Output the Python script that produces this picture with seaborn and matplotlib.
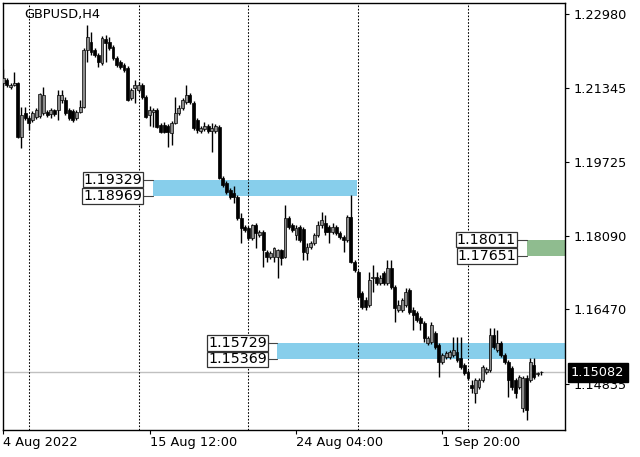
import numpy as np
import pandas as pd
import matplotlib
matplotlib.use("Agg")
import matplotlib.pyplot as plt
from matplotlib.transforms import blended_transform_factory
import seaborn as sns

# estilo base
sns.set_theme(style="white")
plt.rcParams['font.family'] = ['DejaVu Sans']

# --- datos GBPUSD H4 ---
opens = [
    1.2146, 1.2153, 1.2137, 1.2142, 1.2146, 1.2027, 1.2080, 1.2069, 1.2064, 1.2071,
    1.2073, 1.2080, 1.2082, 1.2078, 1.2087, 1.2087, 1.2109, 1.2109, 1.2087, 1.2084,
    1.2069, 1.2082, 1.2093, 1.2219, 1.2236, 1.2219, 1.2208, 1.2190, 1.2243, 1.2236,
    1.2225, 1.2201, 1.2192, 1.2186, 1.2179, 1.2113, 1.2135, 1.2131, 1.2142, 1.2115,
    1.2076, 1.2082, 1.2087, 1.2053, 1.2053, 1.2051, 1.2036, 1.2058, 1.2080, 1.2091,
    1.2104, 1.2120, 1.2102, 1.2064, 1.2040, 1.2045, 1.2051, 1.2040, 1.2040, 1.2049,
    1.1937, 1.1926, 1.1910, 1.1904, 1.1895, 1.1848, 1.1829, 1.1827, 1.1805, 1.1833,
    1.1811, 1.1818, 1.1774, 1.1763, 1.1763, 1.1763, 1.1778, 1.1763, 1.1848, 1.1833,
    1.1811, 1.1829, 1.1824, 1.1772, 1.1785, 1.1793, 1.1811, 1.1833, 1.1838, 1.1829,
    1.1818, 1.1829, 1.1816, 1.1807, 1.1800, 1.1851, 1.1752, 1.1730, 1.1683, 1.1668,
    1.1657, 1.1716, 1.1718, 1.1705, 1.1727, 1.1705, 1.1738, 1.1697, 1.1646, 1.1646,
    1.1657, 1.1690, 1.1646, 1.1639, 1.1628, 1.1617, 1.1573, 1.1575, 1.1595, 1.1569,
    1.1531, 1.1542, 1.1542, 1.1547, 1.1553, 1.1540, 1.1525, 1.1509, 1.1481, 1.1463,
    1.1477, 1.1492, 1.1509, 1.1514, 1.1591, 1.1558, 1.1573, 1.1547, 1.1531, 1.1518,
    1.1492, 1.1477, 1.1430, 1.1496, 1.1492, 1.1525, 1.1505, 1.1510]
highs = [
    1.2177, 1.2157, 1.2146, 1.2170, 1.2148, 1.2093, 1.2093, 1.2073, 1.2084, 1.2091,
    1.2124, 1.2137, 1.2087, 1.2091, 1.2089, 1.2131, 1.2131, 1.2115, 1.2091, 1.2089,
    1.2087, 1.2109, 1.2223, 1.2274, 1.2258, 1.2223, 1.2212, 1.2249, 1.2252, 1.2247,
    1.2230, 1.2205, 1.2197, 1.2190, 1.2183, 1.2135, 1.2153, 1.2148, 1.2146, 1.2120,
    1.2095, 1.2091, 1.2091, 1.2058, 1.2060, 1.2056, 1.2062, 1.2115, 1.2098, 1.2113,
    1.2142, 1.2124, 1.2106, 1.2069, 1.2051, 1.2060, 1.2056, 1.2058, 1.2056, 1.2053,
    1.1941, 1.1930, 1.1915, 1.1919, 1.1899, 1.1859, 1.1833, 1.1831, 1.1835, 1.1838,
    1.1822, 1.1822, 1.1778, 1.1776, 1.1785, 1.1780, 1.1780, 1.1877, 1.1853, 1.1838,
    1.1833, 1.1833, 1.1829, 1.1793, 1.1798, 1.1816, 1.1842, 1.1862, 1.1855, 1.1833,
    1.1838, 1.1833, 1.1820, 1.1811, 1.1855, 1.1899, 1.1756, 1.1734, 1.1688, 1.1674,
    1.1730, 1.1745, 1.1730, 1.1723, 1.1732, 1.1756, 1.1756, 1.1701, 1.1668, 1.1672,
    1.1694, 1.1694, 1.1652, 1.1643, 1.1633, 1.1622, 1.1589, 1.1620, 1.1600, 1.1573,
    1.1551, 1.1556, 1.1558, 1.1586, 1.1586, 1.1586, 1.1529, 1.1514, 1.1492, 1.1496,
    1.1496, 1.1525, 1.1520, 1.1606, 1.1606, 1.1602, 1.1578, 1.1551, 1.1536, 1.1523,
    1.1496, 1.1503, 1.1500, 1.1503, 1.1540, 1.1540, 1.1509, 1.1512]
lows = [
    1.2139, 1.2137, 1.2133, 1.2139, 1.2025, 1.2003, 1.2064, 1.2042, 1.2060, 1.2067,
    1.2069, 1.2076, 1.2071, 1.2069, 1.2073, 1.2064, 1.2102, 1.2076, 1.2064, 1.2060,
    1.2064, 1.2080, 1.2091, 1.2192, 1.2208, 1.2203, 1.2181, 1.2186, 1.2192, 1.2219,
    1.2197, 1.2181, 1.2177, 1.2170, 1.2106, 1.2109, 1.2102, 1.2126, 1.2111, 1.2069,
    1.2051, 1.2049, 1.2047, 1.2036, 1.2036, 1.2005, 1.2009, 1.2056, 1.2076, 1.2087,
    1.2100, 1.2100, 1.2042, 1.2036, 1.2036, 1.2040, 1.2036, 1.1994, 1.2036, 1.1934,
    1.1917, 1.1901, 1.1890, 1.1882, 1.1844, 1.1793, 1.1818, 1.1800, 1.1800, 1.1782,
    1.1807, 1.1741, 1.1752, 1.1758, 1.1752, 1.1716, 1.1745, 1.1761, 1.1824, 1.1818,
    1.1800, 1.1796, 1.1756, 1.1756, 1.1780, 1.1789, 1.1807, 1.1827, 1.1811, 1.1793,
    1.1813, 1.1811, 1.1802, 1.1774, 1.1796, 1.1750, 1.1730, 1.1670, 1.1648, 1.1646,
    1.1652, 1.1686, 1.1701, 1.1701, 1.1701, 1.1701, 1.1692, 1.1620, 1.1641, 1.1641,
    1.1652, 1.1637, 1.1602, 1.1620, 1.1602, 1.1575, 1.1569, 1.1571, 1.1560, 1.1498,
    1.1527, 1.1538, 1.1538, 1.1542, 1.1531, 1.1516, 1.1503, 1.1492, 1.1463, 1.1441,
    1.1472, 1.1487, 1.1505, 1.1509, 1.1560, 1.1553, 1.1542, 1.1527, 1.1454, 1.1470,
    1.1452, 1.1472, 1.1421, 1.1404, 1.1487, 1.1494, 1.1500, 1.1503]
closes = [
    1.2157, 1.2142, 1.2142, 1.2146, 1.2027, 1.2076, 1.2069, 1.2058, 1.2080, 1.2087,
    1.2122, 1.2120, 1.2076, 1.2087, 1.2078, 1.2120, 1.2120, 1.2080, 1.2069, 1.2064,
    1.2082, 1.2093, 1.2219, 1.2247, 1.2214, 1.2208, 1.2192, 1.2245, 1.2234, 1.2223,
    1.2201, 1.2186, 1.2181, 1.2175, 1.2109, 1.2131, 1.2142, 1.2142, 1.2115, 1.2071,
    1.2087, 1.2087, 1.2049, 1.2038, 1.2038, 1.2038, 1.2058, 1.2080, 1.2091, 1.2109,
    1.2120, 1.2104, 1.2047, 1.2042, 1.2047, 1.2051, 1.2040, 1.2047, 1.2051, 1.1937,
    1.1921, 1.1906, 1.1895, 1.1895, 1.1848, 1.1827, 1.1822, 1.1805, 1.1833, 1.1816,
    1.1818, 1.1778, 1.1763, 1.1772, 1.1782, 1.1778, 1.1761, 1.1848, 1.1829, 1.1822,
    1.1827, 1.1800, 1.1774, 1.1785, 1.1793, 1.1811, 1.1833, 1.1844, 1.1818, 1.1818,
    1.1829, 1.1816, 1.1807, 1.1800, 1.1851, 1.1752, 1.1734, 1.1674, 1.1652, 1.1652,
    1.1712, 1.1718, 1.1705, 1.1716, 1.1705, 1.1738, 1.1697, 1.1650, 1.1657, 1.1668,
    1.1686, 1.1641, 1.1635, 1.1624, 1.1617, 1.1584, 1.1584, 1.1613, 1.1564, 1.1531,
    1.1547, 1.1551, 1.1553, 1.1558, 1.1536, 1.1520, 1.1507, 1.1496, 1.1474, 1.1492,
    1.1492, 1.1520, 1.1516, 1.1591, 1.1564, 1.1573, 1.1547, 1.1531, 1.1492, 1.1477,
    1.1463, 1.1498, 1.1496, 1.1426, 1.1531, 1.1498, 1.1507, 1.15082]

# etiquetas del eje x (barra -> texto)
xtick_bars = [0, 40, 80, 120]
xtick_labels = ['4 Aug 2022', '15 Aug 12:00', '24 Aug 04:00', '1 Sep 20:00']
# separadores semanales (inicio de semana)
week_bars = [7, 37, 67, 97, 127]
# eje de precios
ytick_values = [1.22980, 1.21345, 1.19725, 1.18090, 1.16470, 1.14835]
last_price = 1.15082

# zonas: tope, base, barra inicial, barra final (None = hasta el borde)
zone_tops = [1.19329, 1.18011, 1.15729]
zone_bottoms = [1.18969, 1.17651, 1.15369]
zone_starts = [40.8, 143.0, 74.9]
zone_ends = [96.8, None, None]
zone_colors = ['#87CEEB', '#8FBC8F', '#87CEEB']

df = pd.DataFrame({'open': opens, 'high': highs, 'low': lows, 'close': closes})
df['bar'] = np.arange(len(df))
df['up'] = df['close'] >= df['open']

fig = plt.figure(figsize=(6.4, 4.57), dpi=100)
ax = fig.add_axes([3 / 640, 27 / 457, 562 / 640, 427 / 457])
x_left, x_right = -0.05, 153.5
ax.set_xlim(x_left, x_right)
ax.set_ylim(1.13815, 1.23222)

# zonas
for top, bot, x0, x1, col in zip(zone_tops, zone_bottoms, zone_starts, zone_ends, zone_colors):
    if x1 is None:
        x1 = x_right
    ax.fill_between([x0, x1], bot, top, color=col, lw=0, zorder=1)
    for price in (top, bot):
        ax.plot([x0 - 2.5, x0], [price, price], color='#444444', lw=0.8, zorder=5)
        ax.text(x0 - 2.85, price, f"{price:.5f}", ha='right', va='center',
                fontsize=10.3, color='black', zorder=6,
                bbox=dict(boxstyle='square,pad=0.05', fc='white', ec='#333333', lw=0.9))

# separadores
for b in week_bars:
    ax.axvline(b, color='black', lw=0.75, ls=(0, (1.6, 1.6)), zorder=2)

# linea del precio actual
ax.axhline(last_price, color='#c0c0c0', lw=1, zorder=1.5)

# velas
ax.vlines(df['bar'], df['low'], df['high'], color='black', lw=1.0, zorder=3)
body_bottom = df[['open', 'close']].min(axis=1)
body_height = (df['close'] - df['open']).abs().clip(lower=0.00008)
body_colors = np.where(df['up'], '#8c8c8c', 'black')
ax.bar(df['bar'], body_height, bottom=body_bottom, width=0.8,
       color=body_colors, edgecolor='black', linewidth=0.5, zorder=4)

# ejes
for s in ax.spines.values():
    s.set_visible(True)
    s.set_color('black')
    s.set_linewidth(1)
ax.yaxis.tick_right()
ax.set_yticks(ytick_values)
ax.set_yticklabels([f"{v:.5f}" for v in ytick_values])
ax.set_xticks(xtick_bars)
ax.set_xticklabels(xtick_labels, ha='left')
ax.tick_params(axis='y', which='both', right=True, left=False, direction='out',
               length=3, width=0.8, color='black', pad=3, labelsize=9.3, labelcolor='black')
ax.tick_params(axis='x', which='both', bottom=True, direction='out',
               length=3, width=0.8, color='black', pad=1.5, labelsize=9.3, labelcolor='black')
ax.grid(False)

# etiqueta del precio actual
trans = blended_transform_factory(ax.transAxes, ax.transData)
ax.text(1.0105, last_price, f"{last_price:.5f}", transform=trans, ha='left', va='center',
        fontsize=9.3, color='white', zorder=7, clip_on=False,
        bbox=dict(boxstyle='square,pad=0.25', fc='black', ec='black'))

# titulo
ax.text(0.0374, 0.974, 'GBPUSD,H4', transform=ax.transAxes, ha='left', va='center',
        fontsize=9.3, color='black', zorder=7)

fig.savefig('out.png', dpi=100, facecolor='white')
